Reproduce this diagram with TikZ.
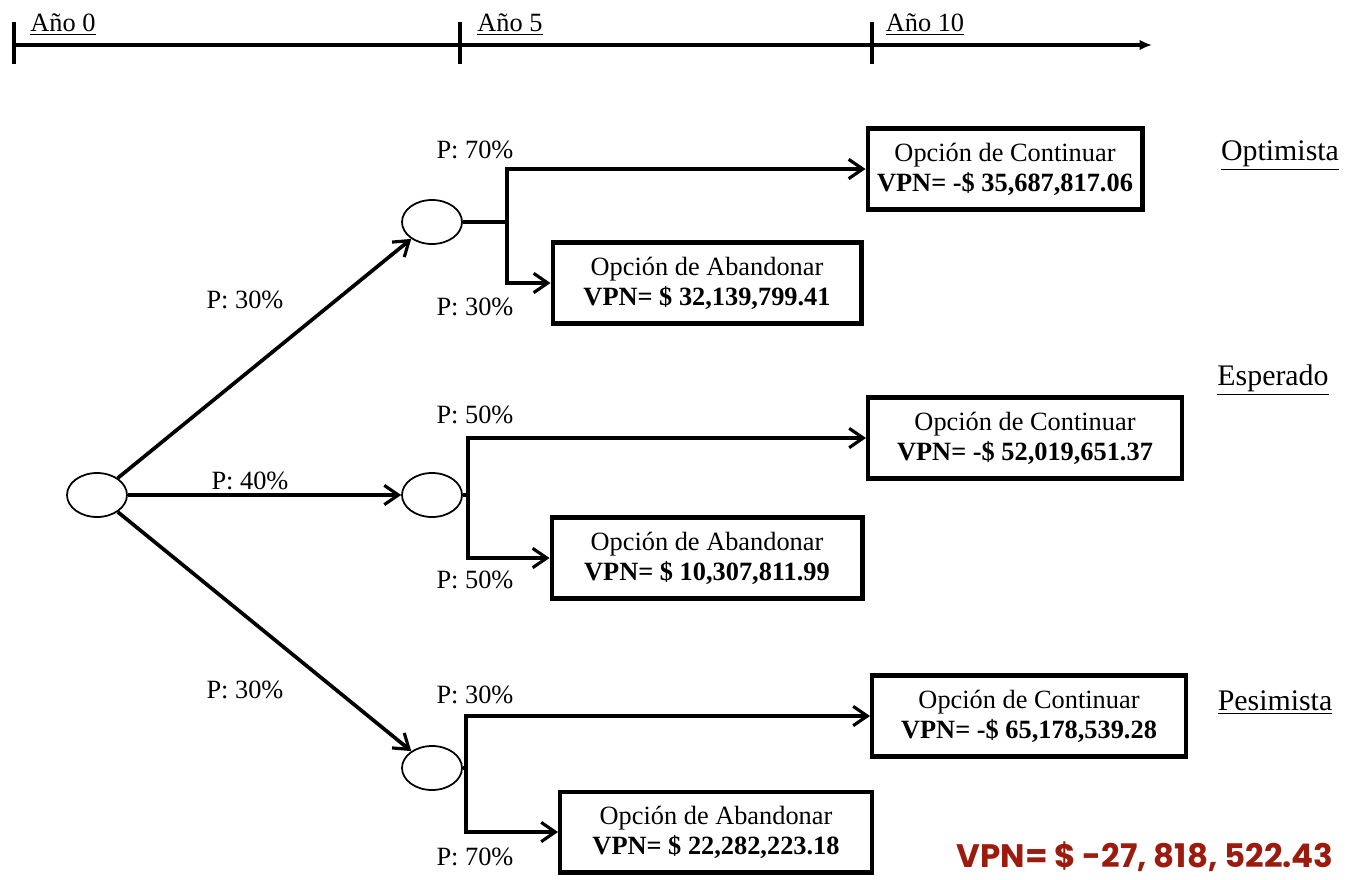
\documentclass[tikz,border=0pt]{standalone}
\usepackage{fontspec}
\setmainfont{Liberation Serif}
\newfontfamily\totalfont{Poppins}
\usepackage{xcolor}
\usepackage{tikz}
\usetikzlibrary{shapes.geometric, positioning, calc, arrows.meta}
\definecolor{vpnred}{HTML}{9B1B0E}

\begin{document}
\begin{tikzpicture}[x=0.02cm, y=-0.02cm,
    font=\fontsize{15}{17}\selectfont,
    chance/.style={ellipse, draw, line width=1pt, minimum width=1.2cm, minimum height=0.88cm},
    optbox/.style={draw, line width=2.3pt, align=center, minimum height=1.62cm, inner sep=2pt},
    prob/.style={inner sep=0pt},
    arr/.style={line width=2.1pt, -{Straight Barb[length=8pt, width=11pt, line width=1.8pt]}},
    seg/.style={line width=2.1pt},
    scen/.style={font=\fontsize{17}{19}\selectfont, inner sep=0pt}]
    \useasboundingbox (0,0) rectangle (1371,879);

    % Time line at the top
    \coordinate (t0) at (14,45);
    \coordinate (tend) at (1152,45);
    \draw[line width=2pt, -{Latex[length=7pt, width=6pt]}] (t0) -- (tend);
    \draw[line width=1.8pt] (14,22) -- (14,64);
    \draw[line width=1.8pt] (460,22) -- (460,64);
    \draw[line width=1.8pt] (872,22) -- (872,64);
    \node[prob] (y0) at (63,25) {\underline{Año 0}};
    \node[prob] (y5) at (510,25) {\underline{Año 5}};
    \node[prob] (y10) at (925,25) {\underline{Año 10}};

    % Chance nodes
    \node[chance] (root) at (97,495) {};
    \node[chance] (opt) at (432,222) {};
    \node[chance] (esp) at (432,495) {};
    \node[chance] (pes) at (432,768) {};

    % First stage branches
    \draw[arr] (root) -- (opt);
    \draw[arr] (root) -- (esp);
    \draw[arr] (root) -- (pes);
    \node[prob] (p1) at (245,300) {P: 30\%};
    \node[prob] (p2) at (250,481) {P: 40\%};
    \node[prob] (p3) at (245,690) {P: 30\%};

    % Optimista scenario
    \node[optbox, minimum width=5.5cm] (contopt) at (1005,169)
        {Opción de Continuar\\\textbf{VPN= -\$ 35,687,817.06}};
    \node[optbox, minimum width=6.18cm] (abopt) at (707,283)
        {Opción de Abandonar\\\textbf{VPN= \$ 32,139,799.41}};
    \coordinate (jopt) at (507,222);
    \draw[seg] (opt.east) -- (jopt);
    \draw[arr] (jopt) |- (contopt.west);
    \draw[arr] (jopt) |- (abopt.west);
    \node[prob] (p4) at (475,150) {P: 70\%};
    \node[prob] (p5) at (475,307) {P: 30\%};
    \node[scen] (sopt) at (1280,156) {\underline{Optimista}};

    % Esperado scenario
    \node[optbox, minimum width=6.28cm] (contesp) at (1025,438)
        {Opción de Continuar\\\textbf{VPN= -\$ 52,019,651.37}};
    \node[optbox, minimum width=6.22cm] (abesp) at (707,558)
        {Opción de Abandonar\\\textbf{VPN= \$ 10,307,811.99}};
    \coordinate (jesp) at (468,495);
    \draw[seg] (esp.east) -- (jesp);
    \draw[arr] (jesp) |- (contesp.west);
    \draw[arr] (jesp) |- (abesp.west);
    \node[prob] (p6) at (475,415) {P: 50\%};
    \node[prob] (p7) at (475,580) {P: 50\%};
    \node[scen] (sesp) at (1273,380) {\underline{Esperado}};

    % Pesimista scenario
    \node[optbox, minimum width=6.28cm] (contpes) at (1029,716)
        {Opción de Continuar\\\textbf{VPN= -\$ 65,178,539.28}};
    \node[optbox, minimum width=6.24cm] (abpes) at (716,832)
        {Opción de Abandonar\\\textbf{VPN= \$ 22,282,223.18}};
    \coordinate (jpes) at (466,768);
    \draw[seg] (pes.east) -- (jpes);
    \draw[arr] (jpes) |- (contpes.west);
    \draw[arr] (jpes) |- (abpes.west);
    \node[prob] (p8) at (475,695) {P: 30\%};
    \node[prob] (p9) at (475,857) {P: 70\%};
    \node[scen] (spes) at (1275,703) {\underline{Pesimista}};

    % Total
    \node[prob, text=vpnred, font=\totalfont\bfseries\fontsize{18.5}{20}\selectfont] (total) at (1145,857)
        {VPN= \$ -27, 818, 522.43};
\end{tikzpicture}
\end{document}
